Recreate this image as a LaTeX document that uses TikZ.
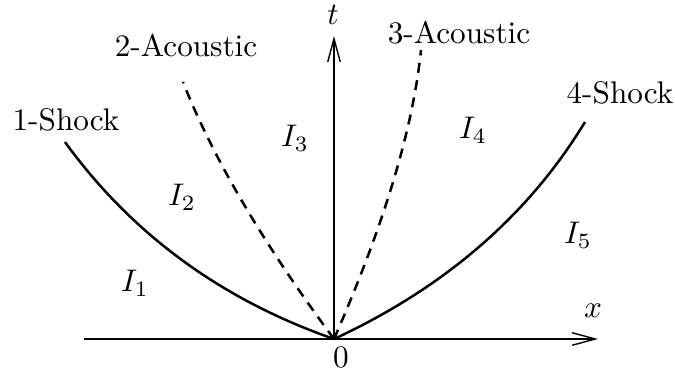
\documentclass[tikz,border=0pt]{standalone}
\usetikzlibrary{arrows.meta}
\begin{document}
\begin{tikzpicture}[x=0.32pt,y=-0.32pt,
  axis/.style={line width=0.45pt,-{Straight Barb[length=7.4pt,width=4pt,line width=0.45pt]}},
  shock/.style={line width=0.8pt},
  acoustic/.style={line width=0.8pt,dash pattern=on 3.2pt off 2.4pt},
  lbl/.style={inner sep=0pt}]
\useasboundingbox (0,0) rectangle (675,370);
\coordinate (O) at (334,339);
\coordinate (xl) at (84,339);
\coordinate (xr) at (598,339);
\coordinate (tt) at (334,36);
\coordinate (e1) at (65,142);
\coordinate (e2) at (183,82);
\coordinate (e3) at (421,50);
\coordinate (e4) at (585,122);
\draw[axis] (xl) -- (xr);
\draw[axis] (O) -- (tt);
\draw[shock] (O) .. controls (221.3,299.7) and (131.7,234) .. (e1);
\draw[acoustic] (O) .. controls (263.3,243.7) and (213,158) .. (e2);
\draw[acoustic] (O) .. controls (384,225) and (413,128.7) .. (e3);
\draw[shock] (O) .. controls (444.7,287.7) and (528.3,215.3) .. (e4);
\node[lbl] (l1) at (66,120) {1-Shock};
\node[lbl] (l2) at (186,45) {2-Acoustic};
\node[lbl] (l3) at (459,33) {3-Acoustic};
\node[lbl] (l4) at (620,93) {4-Shock};
\node[lbl] (tlab) at (333,15) {$t$};
\node[lbl] (xlab) at (593,311) {$x$};
\node[lbl] (zero) at (341,357) {$0$};
\node[lbl] (i1) at (135,283) {$I_1$};
\node[lbl] (i2) at (182,197) {$I_2$};
\node[lbl] (i3) at (295,138) {$I_3$};
\node[lbl] (i4) at (473,130) {$I_4$};
\node[lbl] (i5) at (578,235) {$I_5$};
\end{tikzpicture}
\end{document}
